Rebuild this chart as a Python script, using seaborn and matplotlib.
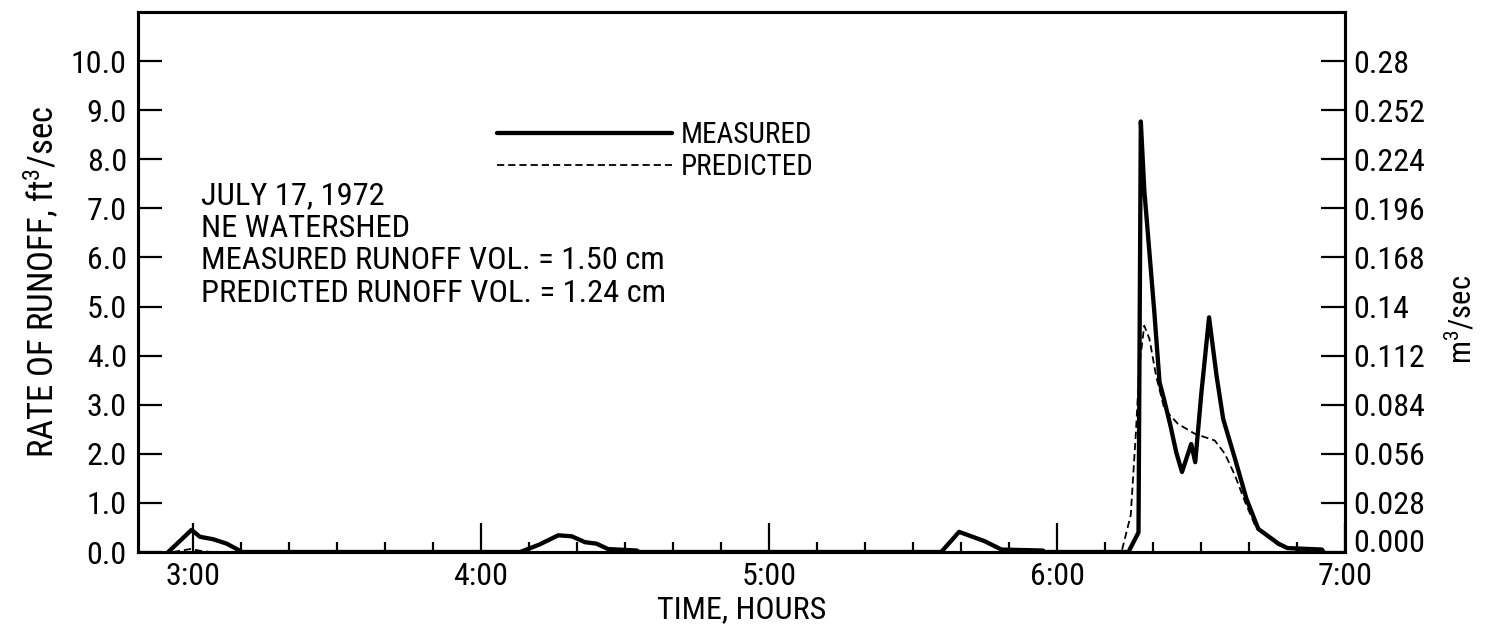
import numpy as np
import pandas as pd
import matplotlib
matplotlib.use("Agg")
import matplotlib.pyplot as plt
from matplotlib import font_manager as fm
import seaborn as sns
from matplotlib.ticker import FixedLocator, FuncFormatter

# ---------------- data ----------------
meas_t = [2.914, 2.995, 3.024, 3.07, 3.117, 3.152, 3.17,
          4.136, 4.202, 4.268, 4.315, 4.361, 4.401, 4.441, 4.541, 4.547,
          5.598, 5.660, 5.749, 5.807, 5.951, 5.955,
          6.248, 6.283, 6.291, 6.303, 6.338, 6.356, 6.373, 6.394, 6.414,
          6.434, 6.466, 6.480, 6.501, 6.528, 6.554, 6.577, 6.618, 6.658,
          6.699, 6.769, 6.80, 6.92, 6.925]
meas_q = [0, 0.45, 0.31, 0.26, 0.17, 0.06, 0,
          0, 0.15, 0.34, 0.32, 0.20, 0.17, 0.06, 0.03, 0,
          0, 0.41, 0.22, 0.05, 0.03, 0,
          0, 0.40, 8.77, 7.38, 4.88, 3.46, 3.08, 2.57, 2.03,
          1.63, 2.20, 1.83, 3.22, 4.78, 3.59, 2.71, 1.90, 1.08,
          0.47, 0.17, 0.08, 0.05, 0]

pred_t = [2.93, 2.99, 3.03, 3.06,
          6.224, 6.256, 6.274, 6.286, 6.303, 6.321, 6.344, 6.373, 6.420,
          6.478, 6.548, 6.583, 6.618, 6.653, 6.688, 6.723, 6.769, 6.828, 6.86]
pred_q = [0, 0.06, 0.02, 0,
          0, 0.75, 2.44, 3.79, 4.61, 4.34, 3.59, 2.91, 2.61,
          2.41, 2.27, 2.00, 1.56, 1.02, 0.54, 0.34, 0.14, 0.03, 0]

hour_ticks = [3, 4, 5, 6, 7]
hour_labels = ["3:00", "4:00", "5:00", "6:00", "7:00"]
left_ticks = [0, 1, 2, 3, 4, 5, 6, 7, 8, 9, 10]
right_ticks = [0.0, 0.028, 0.056, 0.084, 0.112, 0.14, 0.168, 0.196, 0.224, 0.252, 0.28]
right_labels = ["0.000", "0.028", "0.056", "0.084", "0.112", "0.14", "0.168",
                "0.196", "0.224", "0.252", "0.28"]
info_lines = ["JULY 17, 1972", "NE WATERSHED",
              "MEASURED RUNOFF VOL. = 1.50 cm",
              "PREDICTED RUNOFF VOL. = 1.24 cm"]
FT3_TO_M3 = 0.028

# ---------------- fonts ----------------
def pick_font():
    names = {f.name for f in fm.fontManager.ttflist}
    for n in ["Liberation Sans Narrow", "Roboto Condensed", "DejaVu Sans Condensed",
              "Open Sans Condensed", "Noto Sans Condensed"]:
        if n in names:
            return n, "normal", True
    for f in fm.fontManager.ttflist:
        st = str(f.stretch)
        if f.name in ("DejaVu Sans", "Roboto", "Noto Sans", "Open Sans") and \
                st in ("condensed", "semi-condensed", "extra-condensed"):
            return f.name, st, True
    return "Liberation Sans", "normal", False

FAM, STRETCH, NARROW = pick_font()

sns.set_theme(style="ticks")
plt.rcParams["font.family"] = [FAM, "DejaVu Sans"]
plt.rcParams["font.stretch"] = STRETCH
plt.rcParams["mathtext.fontset"] = "custom"
plt.rcParams["mathtext.rm"] = FAM
plt.rcParams["mathtext.it"] = FAM
for k in ["text.color", "axes.labelcolor", "xtick.color", "ytick.color", "axes.edgecolor"]:
    plt.rcParams[k] = "black"

if NARROW:
    tick_fs, lab_fs, x_fs, txt_fs, leg_fs, r_fs = 23, 25, 23, 23.4, 21, 22
else:
    tick_fs, lab_fs, x_fs, txt_fs, leg_fs, r_fs = 20.5, 21.5, 20, 19.5, 17.5, 20

W, H = 1505, 633
fig = plt.figure(figsize=(W / 100, H / 100), dpi=100)
fig.patch.set_facecolor("white")
L, R, B, T = 138, 1345, 552, 12
ax = fig.add_axes([L / W, 1 - B / H, (R - L) / W, (B - T) / H])

df_m = pd.DataFrame({"t": meas_t, "q": meas_q})
df_p = pd.DataFrame({"t": pred_t, "q": pred_q})
sns.lineplot(data=df_m, x="t", y="q", ax=ax, color="black", lw=3.1,
             estimator=None, label="MEASURED")
sns.lineplot(data=df_p, x="t", y="q", ax=ax, color="black", lw=1.3,
             estimator=None, linestyle=(0, (4, 2.2)), label="PREDICTED")

ax.set_xlim(2.809, 7.0)
ax.set_ylim(0, 11)

ax.xaxis.set_major_locator(FixedLocator(hour_ticks))
ax.set_xticklabels(hour_labels)
ax.xaxis.set_minor_locator(FixedLocator([h + m / 6 for h in range(3, 7) for m in range(1, 6)]))
ax.yaxis.set_major_locator(FixedLocator(left_ticks))
ax.yaxis.set_major_formatter(FuncFormatter(lambda v, p: f"{v:.1f}"))

ax.tick_params(axis="x", which="major", direction="in", length=21, width=1.6,
               pad=7, labelsize=tick_fs, colors="black")
ax.tick_params(axis="x", which="minor", direction="in", length=7, width=1.6)
ax.tick_params(axis="y", which="major", direction="in", length=17, width=1.6,
               pad=8, labelsize=tick_fs, colors="black", right=False)

for s in ax.spines.values():
    s.set_linewidth(2.2)
    s.set_color("black")

ax.set_xlabel("TIME, HOURS", fontsize=x_fs, labelpad=3, color="black")
ax.set_ylabel("RATE OF RUNOFF, ft$^3$/sec", fontsize=lab_fs, color="black")
ax.yaxis.set_label_coords(-0.064, 0.5)

ax2 = ax.twinx()
ax2.set_ylim(0, 11 * FT3_TO_M3)
ax2.yaxis.set_major_locator(FixedLocator(right_ticks))
ax2.set_yticklabels(right_labels)
ax2.tick_params(axis="y", direction="in", length=17, width=1.6, pad=6,
                labelsize=tick_fs, colors="black")
ax2.get_yticklabels()[0].set_va("baseline")
for s in ax2.spines.values():
    s.set_linewidth(2.2)
    s.set_color("black")
ax2.set_ylabel("m$^3$/sec", fontsize=r_fs, color="black")
ax2.yaxis.set_label_coords(1.082, 0.43)

# info text block
for i, line in enumerate(info_lines):
    ax.text(0.052, 0.660 - i * 0.0605, line, transform=ax.transAxes,
            fontsize=txt_fs, va="center", ha="left", color="black")

# legend
leg = ax.legend(loc="upper left", bbox_to_anchor=(497 / W, 1 - 121 / H),
                bbox_transform=fig.transFigure, frameon=False, fontsize=leg_fs,
                handlelength=6.0, handletextpad=0.3, labelspacing=0.15,
                borderpad=0, borderaxespad=0)
for t in leg.get_texts():
    t.set_color("black")

fig.savefig("out.png", dpi=100, facecolor="white")
